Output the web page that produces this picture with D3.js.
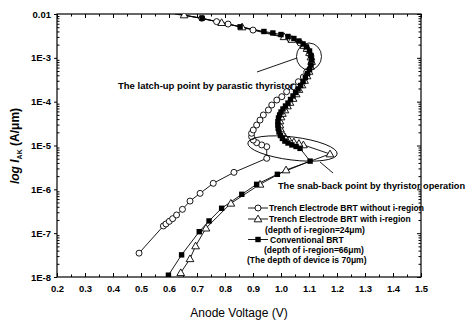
<!DOCTYPE html>
<html><head><meta charset="utf-8">
<script src="https://cdn.jsdelivr.net/npm/d3@7"></script>
<style>
html,body{margin:0;padding:0;background:#fff;}
svg{display:block;font-family:"Liberation Sans",Arial,sans-serif;}
</style></head>
<body>
<svg id="chart" width="468" height="322"></svg>
<script>
// ---- data (Anode voltage V, current A/um) ----
const xTickValues = [0.2,0.3,0.4,0.5,0.6,0.7,0.8,0.9,1.0,1.1,1.2,1.3,1.4,1.5];
const xTickLabels = ["0.2","0.3","0.4","0.5","0.6","0.7","0.8","0.9","1.0","1.1","1.2","1.3","1.4","1.5"];
const yTickValues = [1e-8,1e-7,1e-6,1e-5,1e-4,1e-3,1e-2];
const yTickLabels = ["1E-8","1E-7","1E-6","1E-5","1E-4","1E-3","0.01"];

const seriesNames = [
  "Trench Electrode BRT without i-region",
  "Trench Electrode BRT with i-region",
  "Conventional BRT"
];

// without i-region (open circles)
const circleV = [0.493,0.580,0.589,0.601,0.613,0.627,0.648,0.675,0.711,0.758,0.832,0.949,
  0.949,0.931,0.913,0.901,0.895,0.895,0.901,0.913,0.925,0.937,0.955,0.967,0.985,1.003,1.020,1.044,1.062,1.080,1.092,
  1.109,1.107,1.093,1.068,1.032,0.900,0.811,0.770,0.717,0.640];
const circleI = [3.5e-8,1.46e-7,1.62e-7,1.86e-7,2.14e-7,2.6e-7,3.5e-7,5.4e-7,8.1e-7,1.37e-6,2.44e-6,5.1e-6,
  9.4e-6,1.03e-5,1.16e-5,1.33e-5,1.59e-5,1.90e-5,2.26e-5,2.93e-5,3.8e-5,4.97e-5,6.46e-5,8.4e-5,1.09e-4,1.30e-4,1.69e-4,2.19e-4,2.85e-4,3.65e-4,4.8e-4,
  7.6e-4,1.10e-3,1.59e-3,2.18e-3,2.7e-3,4.3e-3,5.9e-3,6.7e-3,8.0e-3,9.8e-3];

// with i-region (open triangles)
const triV = [0.642,0.675,0.695,0.732,0.821,0.925,1.018,1.175,1.080,
  1.064,1.046,1.029,1.014,1.004,0.998,0.996,0.996,1.000,1.005,1.014,1.023,1.032,1.043,1.054,1.064,1.075,1.084,1.093,1.100,1.105,1.109,1.107,1.102,1.093,1.082,
  1.039,1.011,0.861,0.788,0.654,0.632];
const triI = [1.25e-8,2.6e-8,5.1e-8,1.3e-7,4.8e-7,1.3e-6,2.76e-6,6.4e-6,1.03e-5,
  1.11e-5,1.20e-5,1.33e-5,1.56e-5,1.93e-5,2.38e-5,2.93e-5,3.62e-5,4.47e-5,5.37e-5,6.46e-5,7.96e-5,9.57e-5,1.18e-4,1.50e-4,1.89e-4,2.40e-4,3.04e-4,3.85e-4,4.88e-4,6.34e-4,8.24e-4,1.04e-3,1.32e-3,1.63e-3,1.91e-3,
  2.62e-3,3.02e-3,5.05e-3,6.34e-3,9.5e-3,9.9e-3];

// conventional BRT (filled squares)
const sqV = [0.598,0.645,0.708,0.743,0.788,0.860,0.913,0.987,1.104,
  1.068,1.054,1.039,1.025,1.014,1.005,0.998,0.993,0.990,0.989,0.989,0.991,0.995,1.000,1.007,1.016,1.025,1.034,1.043,1.052,1.061,1.070,1.079,1.087,1.095,1.102,1.107,1.109,1.107,1.102,1.091,1.079,1.064,1.046,1.025,1.000,0.971,0.939,
  0.854,0.718,0.620];
const sqI = [1.1e-8,3.2e-8,1.08e-7,1.9e-7,3.7e-7,7.7e-7,1.3e-6,2.2e-6,4.4e-6,
  8.6e-6,9.5e-6,1.03e-5,1.14e-5,1.26e-5,1.45e-5,1.69e-5,2.03e-5,2.47e-5,2.94e-5,3.49e-5,4.24e-5,4.97e-5,5.81e-5,6.81e-5,7.96e-5,9.31e-5,1.12e-4,1.35e-4,1.62e-4,1.95e-4,2.34e-4,2.88e-4,3.56e-4,4.39e-4,5.42e-4,6.85e-4,8.93e-4,1.13e-3,1.43e-3,1.77e-3,2.07e-3,2.42e-3,2.76e-3,3.07e-3,3.40e-3,3.69e-3,3.99e-3,
  5.1e-3,8.0e-3,1.0e-2];

// ---- layout ----
const W = 468, H = 322;
const PL = 57, PR = 421, PT = 14, PB = 277;
const svg = d3.select("#chart");
const x = d3.scaleLinear().domain([0.2,1.5]).range([PL,PR]);
const y = d3.scaleLog().domain([1e-8,1e-2]).range([PB,PT]);

svg.append("defs").append("clipPath").attr("id","clip")
  .append("rect").attr("x",PL).attr("y",PT).attr("width",PR-PL).attr("height",PB-PT);

// frame
svg.append("rect").attr("x",PL).attr("y",PT).attr("width",PR-PL).attr("height",PB-PT)
  .attr("fill","none").attr("stroke","#000").attr("stroke-width",1.2);

// minor values
const xMinor = d3.range(0,13).map(i => 0.25 + i*0.1);
const yMinor = [];
for (let e=-8;e<-2;e++) for (let k=2;k<=9;k++) yMinor.push(k*Math.pow(10,e));

// axes
const fmtX = d => xTickLabels[xTickValues.findIndex(v => Math.abs(v-d)<1e-9)];
const fmtY = d => yTickLabels[yTickValues.findIndex(v => Math.abs(Math.log10(v)-Math.log10(d))<1e-6)];

const gB = svg.append("g").attr("transform",`translate(0,${PB})`)
  .call(d3.axisBottom(x).tickValues(xTickValues).tickFormat(fmtX).tickSize(-4).tickPadding(8));
const gBm = svg.append("g").attr("transform",`translate(0,${PB})`)
  .call(d3.axisBottom(x).tickValues(xMinor).tickFormat("").tickSize(-2.5));
const gT = svg.append("g").attr("transform",`translate(0,${PT})`)
  .call(d3.axisTop(x).tickValues(xTickValues).tickFormat("").tickSize(-4));
const gTm = svg.append("g").attr("transform",`translate(0,${PT})`)
  .call(d3.axisTop(x).tickValues(xMinor).tickFormat("").tickSize(-2.5));
const gL = svg.append("g").attr("transform",`translate(${PL},0)`)
  .call(d3.axisLeft(y).tickValues(yTickValues).tickFormat(fmtY).tickSize(3).tickPadding(3));
const gLm = svg.append("g").attr("transform",`translate(${PL},0)`)
  .call(d3.axisLeft(y).tickValues(yMinor).tickFormat("").tickSize(-2.5));
const gR = svg.append("g").attr("transform",`translate(${PR},0)`)
  .call(d3.axisRight(y).tickValues(yTickValues).tickFormat("").tickSize(-4));
const gRm = svg.append("g").attr("transform",`translate(${PR},0)`)
  .call(d3.axisRight(y).tickValues(yMinor).tickFormat("").tickSize(-2.5));

[gB,gBm,gT,gTm,gL,gLm,gR,gRm].forEach(g=>{
  g.select(".domain").remove();
  g.selectAll("line").attr("stroke","#000").attr("stroke-width",1);
  g.selectAll("text").attr("fill","#000").attr("font-weight","bold").attr("font-size",9.5)
   .attr("font-family","'Liberation Sans',Arial,sans-serif");
});

// axis titles
svg.append("text").attr("x",(PL+PR)/2).attr("y",317).attr("text-anchor","middle")
  .attr("font-size",12).attr("fill","#000").text("Anode Voltage (V)");

const yt = svg.append("text").attr("transform","translate(19,146) rotate(-90)")
  .attr("text-anchor","middle").attr("font-size",12).attr("font-weight","bold").attr("fill","#000");
yt.append("tspan").attr("font-style","italic").text("log I");
yt.append("tspan").attr("font-size",7).attr("dy",3).text("AK");
yt.append("tspan").attr("dy",-3).text(" (A/\u03bcm)");

// ---- series ----
const plot = svg.append("g").attr("clip-path","url(#clip)");
const line = d3.line().x(d=>x(d[0])).y(d=>y(d[1]));
const circ = circleV.map((v,i)=>[v,circleI[i]]);
const tri = triV.map((v,i)=>[v,triI[i]]);
const sq = sqV.map((v,i)=>[v,sqI[i]]);

[circ,tri,sq].forEach(s=>{
  plot.append("path").datum(s).attr("d",line).attr("fill","none").attr("stroke","#000").attr("stroke-width",0.9);
});

const triSym = d3.symbol().type(d3.symbolTriangle).size(26);
plot.selectAll(".ci").data(circ.slice(0,-1)).join("circle")
  .attr("cx",d=>x(d[0])).attr("cy",d=>y(d[1])).attr("r",3)
  .attr("fill","#fff").attr("stroke","#000").attr("stroke-width",0.9);
plot.selectAll(".tr").data(tri.slice(0,-1)).join("path")
  .attr("transform",d=>`translate(${x(d[0])},${y(d[1])+0.6})`).attr("d",triSym)
  .attr("fill","#fff").attr("stroke","#000").attr("stroke-width",0.9);
plot.selectAll(".sq").data(sq.slice(0,-1)).join("rect")
  .attr("x",d=>x(d[0])-2.7).attr("y",d=>y(d[1])-2.7).attr("width",5.4).attr("height",5.4)
  .attr("fill","#000");

// ---- annotations ----
svg.append("ellipse").attr("cx",309).attr("cy",56.5).attr("rx",12.5).attr("ry",13.5)
  .attr("fill","none").attr("stroke","#000").attr("stroke-width",0.9);
svg.append("line").attr("x1",297).attr("y1",58).attr("x2",257).attr("y2",72)
  .attr("stroke","#000").attr("stroke-width",0.9);
svg.append("ellipse").attr("transform","translate(292.5,148.5) rotate(7)").attr("rx",45).attr("ry",11.5)
  .attr("fill","none").attr("stroke","#000").attr("stroke-width",0.9);
svg.append("line").attr("x1",320).attr("y1",162).attr("x2",333).attr("y2",173)
  .attr("stroke","#000").attr("stroke-width",0.9);

const ann = (t,xx,yy,len) => svg.append("text").attr("x",xx).attr("y",yy)
  .attr("font-size",8.2).attr("font-weight","bold").attr("fill","#000")
  .attr("textLength",len).attr("lengthAdjust","spacingAndGlyphs").text(t);
ann("The latch-up point by parastic thyristor",118,89,176);
ann("The snab-back point by thyristor operation",278,189,187);

// ---- legend ----
const lg = svg.append("g");
const ly = [208,219,229.5,239.5,249.5,259.5];
[0,1,3].forEach(row=>{
  lg.append("line").attr("x1",248).attr("x2",268).attr("y1",ly[row]).attr("y2",ly[row])
    .attr("stroke","#000").attr("stroke-width",0.9);
});
lg.append("circle").attr("cx",258).attr("cy",ly[0]).attr("r",3).attr("fill","#fff").attr("stroke","#000").attr("stroke-width",0.9);
lg.append("path").attr("transform",`translate(258,${ly[1]+0.6})`).attr("d",triSym).attr("fill","#fff").attr("stroke","#000").attr("stroke-width",0.9);
lg.append("rect").attr("x",255.3).attr("y",ly[3]-2.7).attr("width",5.4).attr("height",5.4).attr("fill","#000");
const legTexts = [
  [seriesNames[0],269,ly[0]],
  [seriesNames[1],269,ly[1]],
  ["(depth of i-region=24\u03bcm)",265,ly[2]],
  [seriesNames[2],270,ly[3]],
  ["(depth of i-region=66\u03bcm)",264,ly[4]],
  ["(The depth of device is 70\u03bcm)",247,ly[5]]
];
legTexts.forEach(([t,xx,yy])=>{
  lg.append("text").attr("x",xx).attr("y",yy+3).attr("font-size",8.5).attr("font-weight","bold")
    .attr("fill","#000").text(t);
});
</script>
</body></html>
